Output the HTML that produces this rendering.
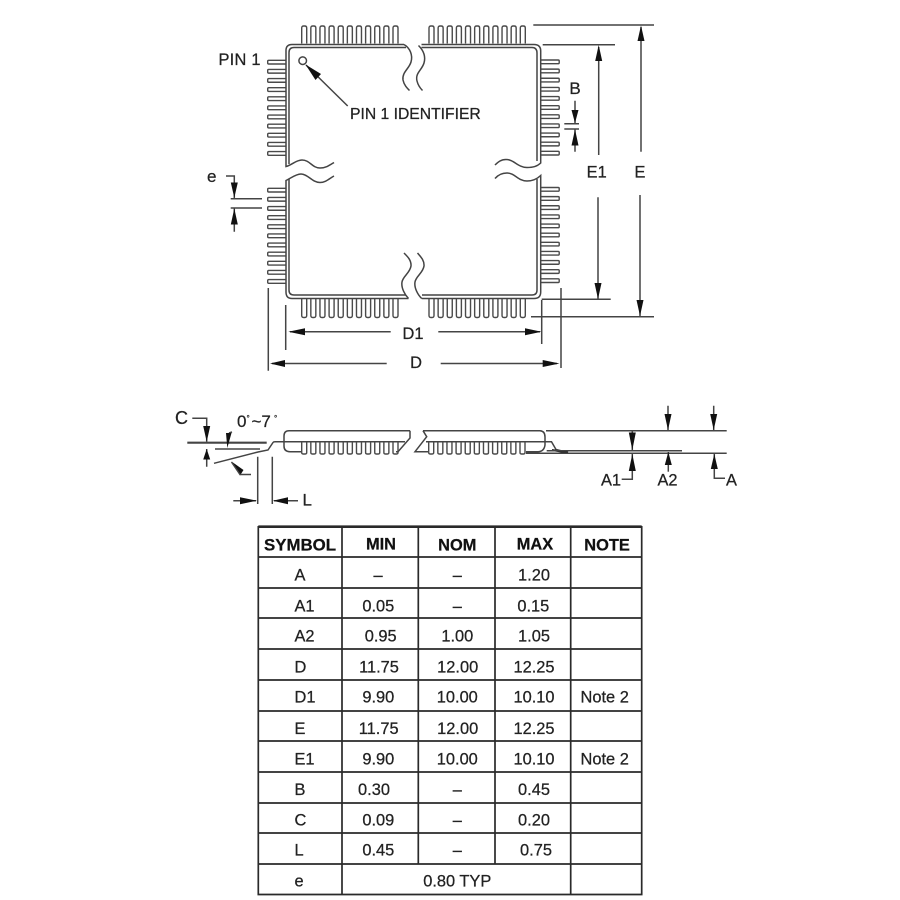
<!DOCTYPE html>
<html><head><meta charset="utf-8"><style>
html,body{margin:0;padding:0;background:#fff}
svg{display:block;filter:blur(0.3px)}
text{font-family:"Liberation Sans",sans-serif;font-size:16.4px;fill:#222;stroke:#222;stroke-width:0.25}
.l{fill:none;stroke:#444;stroke-width:1.5}
.t{fill:none;stroke:#4a4a4a;stroke-width:1.4}
.b{font-weight:bold;fill:#111;stroke:#111}
.m{text-anchor:middle}
.a{fill:#111;stroke:none}
.g{fill:none;stroke:#2a2a2a;stroke-width:1.7}
</style></head><body>
<svg width="900" height="900" viewBox="0 0 900 900" xmlns="http://www.w3.org/2000/svg">
<defs>
<path id="pv" class="t" d="m0,17.5 v-15.5 q0,-2 2,-2 h1 q2,0 2,2 v15.5 m4.13,0 v-15.5 q0,-2 2,-2 h1 q2,0 2,2 v15.5 m4.13,0 v-15.5 q0,-2 2,-2 h1 q2,0 2,2 v15.5 m4.13,0 v-15.5 q0,-2 2,-2 h1 q2,0 2,2 v15.5 m4.13,0 v-15.5 q0,-2 2,-2 h1 q2,0 2,2 v15.5 m4.13,0 v-15.5 q0,-2 2,-2 h1 q2,0 2,2 v15.5 m4.13,0 v-15.5 q0,-2 2,-2 h1 q2,0 2,2 v15.5 m4.13,0 v-15.5 q0,-2 2,-2 h1 q2,0 2,2 v15.5 m4.13,0 v-15.5 q0,-2 2,-2 h1 q2,0 2,2 v15.5 m4.13,0 v-15.5 q0,-2 2,-2 h1 q2,0 2,2 v15.5 m4.13,0 v-15.5 q0,-2 2,-2 h1 q2,0 2,2 v15.5"/>
<path id="pb" class="t" d="m0,0 v17.5 q0,2 2,2 h1 q2,0 2,-2 v-17.5 m4.13,0 v17.5 q0,2 2,2 h1 q2,0 2,-2 v-17.5 m4.13,0 v17.5 q0,2 2,2 h1 q2,0 2,-2 v-17.5 m4.13,0 v17.5 q0,2 2,2 h1 q2,0 2,-2 v-17.5 m4.13,0 v17.5 q0,2 2,2 h1 q2,0 2,-2 v-17.5 m4.13,0 v17.5 q0,2 2,2 h1 q2,0 2,-2 v-17.5 m4.13,0 v17.5 q0,2 2,2 h1 q2,0 2,-2 v-17.5 m4.13,0 v17.5 q0,2 2,2 h1 q2,0 2,-2 v-17.5 m4.13,0 v17.5 q0,2 2,2 h1 q2,0 2,-2 v-17.5 m4.13,0 v17.5 q0,2 2,2 h1 q2,0 2,-2 v-17.5 m4.13,0 v17.5 q0,2 2,2 h1 q2,0 2,-2 v-17.5"/>
<path id="ph" class="t" d="M18,0 H1 q-1,0 -1,1 v1.7 q0,1 1,1 H18 m0,5.43 H1 q-1,0 -1,1 v1.7 q0,1 1,1 H18 m0,5.43 H1 q-1,0 -1,1 v1.7 q0,1 1,1 H18 m0,5.43 H1 q-1,0 -1,1 v1.7 q0,1 1,1 H18 m0,5.43 H1 q-1,0 -1,1 v1.7 q0,1 1,1 H18 m0,5.43 H1 q-1,0 -1,1 v1.7 q0,1 1,1 H18 m0,5.43 H1 q-1,0 -1,1 v1.7 q0,1 1,1 H18 m0,5.43 H1 q-1,0 -1,1 v1.7 q0,1 1,1 H18 m0,5.43 H1 q-1,0 -1,1 v1.7 q0,1 1,1 H18 m0,5.43 H1 q-1,0 -1,1 v1.7 q0,1 1,1 H18 m0,5.43 H1 q-1,0 -1,1 v1.7 q0,1 1,1 H18"/>
<path id="pr" class="t" d="M0,0 H17.5 q1,0 1,1 v1.7 q0,1 -1,1 H0 m0,5.43 H17.5 q1,0 1,1 v1.7 q0,1 -1,1 H0 m0,5.43 H17.5 q1,0 1,1 v1.7 q0,1 -1,1 H0 m0,5.43 H17.5 q1,0 1,1 v1.7 q0,1 -1,1 H0 m0,5.43 H17.5 q1,0 1,1 v1.7 q0,1 -1,1 H0 m0,5.43 H17.5 q1,0 1,1 v1.7 q0,1 -1,1 H0 m0,5.43 H17.5 q1,0 1,1 v1.7 q0,1 -1,1 H0 m0,5.43 H17.5 q1,0 1,1 v1.7 q0,1 -1,1 H0 m0,5.43 H17.5 q1,0 1,1 v1.7 q0,1 -1,1 H0 m0,5.43 H17.5 q1,0 1,1 v1.7 q0,1 -1,1 H0 m0,5.43 H17.5 q1,0 1,1 v1.7 q0,1 -1,1 H0"/>
<path id="ps" class="t" d="m0,0 v10.5 q0,1.5 1.5,1.5 h2 q1.5,0 1.5,-1.5 v-10.5 m4.13,0 v10.5 q0,1.5 1.5,1.5 h2 q1.5,0 1.5,-1.5 v-10.5 m4.13,0 v10.5 q0,1.5 1.5,1.5 h2 q1.5,0 1.5,-1.5 v-10.5 m4.13,0 v10.5 q0,1.5 1.5,1.5 h2 q1.5,0 1.5,-1.5 v-10.5 m4.13,0 v10.5 q0,1.5 1.5,1.5 h2 q1.5,0 1.5,-1.5 v-10.5 m4.13,0 v10.5 q0,1.5 1.5,1.5 h2 q1.5,0 1.5,-1.5 v-10.5 m4.13,0 v10.5 q0,1.5 1.5,1.5 h2 q1.5,0 1.5,-1.5 v-10.5 m4.13,0 v10.5 q0,1.5 1.5,1.5 h2 q1.5,0 1.5,-1.5 v-10.5 m4.13,0 v10.5 q0,1.5 1.5,1.5 h2 q1.5,0 1.5,-1.5 v-10.5 m4.13,0 v10.5 q0,1.5 1.5,1.5 h2 q1.5,0 1.5,-1.5 v-10.5 m4.13,0 v10.5 q0,1.5 1.5,1.5 h2 q1.5,0 1.5,-1.5 v-10.5"/>
</defs>
<rect width="900" height="900" fill="#fff"/>

<!-- pins -->
<use href="#pv" x="301.7" y="26"/><use href="#pv" x="429" y="26"/>
<use href="#pb" x="301.7" y="298"/><use href="#pb" x="429" y="298"/>
<use href="#ph" x="267.7" y="60.3"/><use href="#ph" x="267.7" y="188.3"/>
<use href="#pr" x="540.7" y="60"/><use href="#pr" x="540.7" y="187.5"/>

<!-- body outline -->
<path class="l" d="M404,44.5 H292 Q286,44.5 286,50.5 V166.5 C292,165 296,160 302,160 C310,160 312,168 320,168 C326,168 330,165 334,162.5"/>
<path class="l" d="M406,47.5 H294 Q289,47.5 289,52.5 V164"/>
<path class="l" d="M404,44.5 C410,48 413,55 411,62 C409,69 402,72 403,80 C404,85 407,88 409.5,90.5"/>
<path class="l" d="M418.5,45.5 C423,50 426,56 424,63 C422,70 415,73 417,81 C418,85 420,88 422.5,90.5"/>
<path class="l" d="M421.5,44.5 H534 Q540.7,44.5 540.7,51 V163 C537,166.5 533,167.5 527,167.5 C518,167.5 514,159.5 506,159.5 C501,159.5 498,162 495,165"/>
<path class="l" d="M421.5,47.5 H532 Q537,47.5 537,53 V161"/>
<path class="l" d="M495,178.5 C498,175 502,173 507,173 C515,173 518,181 527,181 C533,181 537,179 540.7,175.5 V292 Q540.7,298.5 534,298.5 H421.7"/>
<path class="l" d="M537,179 V290 Q537,295 532,295 H422"/>
<path class="l" d="M334,176 C330,178 326,182.5 320,182.5 C312,182.5 308,174 301,174 C296,174 291,178 286,180.5 V292 Q286,298.5 292,298.5 H408.5"/>
<path class="l" d="M289,179 V290 Q289,295 294,295 H406"/>
<path class="l" d="M408.5,298.5 C405,295 401,288 402,282 C403,276 410,273 411,266 C411.5,260 407,256 404,253"/>
<path class="l" d="M421.7,298.5 C418,295 414,288 415,282 C416,276 423,273 424,266 C424.5,260 420,256 417.5,253"/>

<!-- pin 1 -->
<circle class="l" cx="302.7" cy="60.7" r="3.8"/>
<path class="l" d="M306,65 L347.7,106"/>
<polygon class="a" points="305.5,64.5 321,74 315.5,80"/>
<text x="218.5" y="65" style="font-size:16.4px" textLength="42">PIN 1</text>
<text x="350" y="119" style="font-size:15.7px">PIN 1 IDENTIFIER</text>

<!-- e dimension -->
<text x="207" y="182" style="font-size:17px">e</text>
<path class="l" d="M226,176 H234.3 V198 M230.7,198.7 H262 M230.7,208 H262 M234.3,208 V231.7"/>
<polygon class="a" points="234.3,197.7 230.8,182.5 237.8,182.5"/>
<polygon class="a" points="234.3,208.5 230.8,224.5 237.8,224.5"/>

<!-- B dimension -->
<text x="575" y="94" class="m" style="font-size:17px">B</text>
<path class="l" d="M575,100.7 V123 M564.3,123.7 H579 M564.3,129 H579 M575,129 V151.7"/>
<polygon class="a" points="575,123 571.5,110 578.5,110"/>
<polygon class="a" points="575,129.5 571.5,145.5 578.5,145.5"/>

<!-- E, E1 -->
<path class="l" d="M533.3,25 H654 M542.7,44.7 H615 M541.7,299.3 H610.7 M531,316.7 H654"/>
<path class="l" d="M641,27 V151.7 M640,195 V316 M598.7,47 V155 M598,197.3 V299"/>
<polygon class="a" points="641,25.5 637.5,41 644.5,41"/>
<polygon class="a" points="640,316 636.5,300 643.5,300"/>
<polygon class="a" points="598.7,45 595.2,61 602.2,61"/>
<polygon class="a" points="598,299 594.5,283 601.5,283"/>
<text x="596.7" y="177.7" class="m">E1</text>
<text x="640" y="177.7" class="m">E</text>

<!-- D, D1 -->
<path class="l" d="M285.7,305 V350 M268.3,288 V370.7 M541.7,300 V344 M561,288 V368"/>
<path class="l" d="M290,331.7 H390.7 M438.3,331.7 H540 M272,363.5 H386.7 M440.7,363.5 H557"/>
<polygon class="a" points="288.3,331.7 305,328.2 305,335.2"/>
<polygon class="a" points="541.5,331.7 525,328.2 525,335.2"/>
<polygon class="a" points="270,363.5 285,360 285,367"/>
<polygon class="a" points="559.5,363.5 542.7,360 542.7,367"/>
<text x="413" y="339" class="m">D1</text>
<text x="416" y="368" class="m">D</text>

<!-- side view: left -->
<path class="l" d="M410,430.7 H289 Q284,430.7 284,436 V446 Q284,451.7 290,451.7 H301 M410,430.7 V438 L398,451.7 H396"/>
<path d="M187.3,442.7 H266.7" fill="none" stroke="#444" stroke-width="2.2"/>
<path class="l" d="M215,449 H260"/>
<path class="l" d="M214,463.3 L258,452 L268,450 L273,442.5 Q273.5,441.7 275,441.7 H301.7 M301.7,441.7 H405"/>
<use href="#ps" x="301.7" y="442"/>
<!-- side view: right -->
<path class="l" d="M423,430.7 H540 Q545,431 545,437 V445 Q544,451.7 538,451.7 H526"/>
<path class="l" d="M423,430.7 L426.7,436.7 L415,451.7 H428.7 M426,441.7 H551.5 L556,449.5 L568,452.5"/>
<use href="#ps" x="428.7" y="442"/>
<path d="M552,450 L568,452.7" fill="none" stroke="#222" stroke-width="2"/>
<path class="l" d="M546,430.7 H726.7 M546.7,450.7 H682 M526,453.3 H726.7"/>

<!-- angle, C, L -->
<text x="237" y="427" style="font-size:17px">0</text>
<text x="246.5" y="421" style="font-size:8px">°</text>
<text x="251.5" y="427" style="font-size:17px">~7</text>
<text x="274" y="421" style="font-size:8px">°</text>
<path class="l" d="M232,432 L229,433"/>
<polygon class="a" points="227.3,448 226,433 231.5,433"/>
<polygon class="a" points="231.5,461.5 243.5,470 240,475.5"/>
<path class="l" d="M231.5,462 L240,474.5 H251"/>
<text x="175" y="424" style="font-size:18px">C</text>
<path class="l" d="M192.3,418.3 H206.7 V441.7 M206.7,449 V466.7"/>
<polygon class="a" points="206.7,441.7 203.2,426 210.2,426"/>
<polygon class="a" points="206.7,449 203.2,459.5 210.2,459.5"/>
<path class="l" d="M257.7,456.7 V504 M272.3,456.7 V504 M233.3,500.7 H256 M274,500.7 H298"/>
<polygon class="a" points="257,500.7 240,497.2 240,504.2"/>
<polygon class="a" points="272.8,500.7 288,497.2 288,504.2"/>
<text x="302.5" y="505.5" style="font-size:17px">L</text>

<!-- side dimension arrows -->
<path class="l" d="M668,405.7 V430 M713.7,405.7 V430"/>
<polygon class="a" points="668,430 664.5,414 671.5,414"/>
<polygon class="a" points="713.7,430 710.2,414 717.2,414"/>
<path class="l" d="M632.3,430.7 V450 M632.3,453.7 V479.3 H621.7"/>
<polygon class="a" points="632.3,450 628.8,432.5 635.8,432.5"/>
<polygon class="a" points="632.3,454 628.8,471 635.8,471"/>
<path class="l" d="M668.3,452 V471.7"/>
<polygon class="a" points="668.3,452 664.8,465 671.8,465"/>
<path class="l" d="M714.3,454 V478.3 H725"/>
<polygon class="a" points="714.3,454 710.8,469 717.8,469"/>
<text x="601" y="485.5">A1</text>
<text x="657.5" y="485.5">A2</text>
<text x="726" y="485.5">A</text>

<!-- table -->
<g class="g">
<path d="M258.3,526.7 H641.7" stroke-width="2.6"/>
<path d="M258.3,526 V894.5 H641.7 V526"/>
<path d="M258.3,557 H641.7 M258.3,588 H641.7 M258.3,618 H641.7 M258.3,649 H641.7 M258.3,680 H641.7 M258.3,711 H641.7 M258.3,741 H641.7 M258.3,772 H641.7 M258.3,803 H641.7 M258.3,833 H641.7 M258.3,864 H641.7"/>
<path d="M342,526 V894.5 M570.7,526 V894.5 M418.3,526 V864 M495,526 V864"/>
</g>
<text x="264" y="550.7" class="b" textLength="72" lengthAdjust="spacingAndGlyphs">SYMBOL</text>
<text x="381" y="549.3" class="b m">MIN</text>
<text x="457.3" y="550.7" class="b m">NOM</text>
<text x="535" y="549.3" class="b m">MAX</text>
<text x="607" y="550.7" class="b m">NOTE</text>

<text x="294.5" y="580.7">A</text><text x="378" y="580.7" class="m">–</text><text x="457.3" y="580.7" class="m">–</text><text x="534" y="580.7" class="m">1.20</text>
<text x="294.5" y="611.7">A1</text><text x="378.3" y="611.7" class="m">0.05</text><text x="457.3" y="611.7" class="m">–</text><text x="533.3" y="611.7" class="m">0.15</text>
<text x="294.5" y="641.7">A2</text><text x="380.7" y="641.7" class="m">0.95</text><text x="457.3" y="641.7" class="m">1.00</text><text x="534" y="641.7" class="m">1.05</text>
<text x="294.5" y="672.3">D</text><text x="379" y="672.3" class="m">11.75</text><text x="457.7" y="672.3" class="m">12.00</text><text x="534" y="672.3" class="m">12.25</text>
<text x="294.5" y="702.7">D1</text><text x="378.3" y="702.7" class="m">9.90</text><text x="457.3" y="702.7" class="m">10.00</text><text x="534" y="702.7" class="m">10.10</text><text x="604.7" y="702.7" class="m">Note 2</text>
<text x="294.5" y="734">E</text><text x="378.7" y="734" class="m">11.75</text><text x="457.7" y="734" class="m">12.00</text><text x="534" y="734" class="m">12.25</text>
<text x="294.5" y="764.3">E1</text><text x="378.3" y="764.3" class="m">9.90</text><text x="457.3" y="764.3" class="m">10.00</text><text x="534" y="764.3" class="m">10.10</text><text x="604.7" y="764.3" class="m">Note 2</text>
<text x="294.5" y="795">B</text><text x="374" y="795" class="m">0.30</text><text x="457.3" y="795" class="m">–</text><text x="534" y="795" class="m">0.45</text>
<text x="294.5" y="825.7">C</text><text x="378.3" y="825.7" class="m">0.09</text><text x="457.3" y="825.7" class="m">–</text><text x="534" y="825.7" class="m">0.20</text>
<text x="294.5" y="855.7">L</text><text x="378.3" y="855.7" class="m">0.45</text><text x="457.3" y="855.7" class="m">–</text><text x="536" y="855.7" class="m">0.75</text>
<text x="294.5" y="886.7">e</text><text x="457.3" y="886.7" class="m">0.80 TYP</text>
</svg>
</body></html>
